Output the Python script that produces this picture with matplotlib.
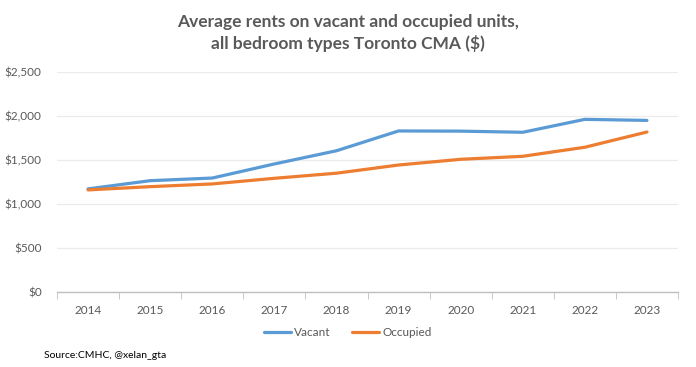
import numpy as np
import matplotlib.pyplot as plt
from matplotlib.ticker import FuncFormatter

years = ["2014", "2015", "2016", "2017", "2018", "2019", "2020", "2021", "2022", "2023"]
vacant = [1172, 1265, 1295, 1455, 1605, 1830, 1828, 1815, 1962, 1950]
occupied = [1160, 1197, 1228, 1292, 1350, 1443, 1508, 1542, 1645, 1818]

plt.rcParams['font.family'] = ['Lato', 'DejaVu Sans']
grey = '#595959'

fig = plt.figure(figsize=(6.96, 3.67), dpi=100)
ax = fig.add_axes([57 / 696, 1 - 292 / 367, (678 - 57) / 696, 220 / 367])

x = np.arange(len(years))
ax.plot(x, vacant, color='#5B9BD5', lw=2.3, label='Vacant', solid_capstyle='round')
ax.plot(x, occupied, color='#ED7D31', lw=2.3, label='Occupied', solid_capstyle='round')

ax.set_xlim(-0.5, len(years) - 0.5)
ax.set_ylim(0, 2500)
ax.set_yticks(np.arange(0, 2501, 500))
ax.yaxis.set_major_formatter(FuncFormatter(lambda v, p: f"${v:,.0f}"))
ax.grid(axis='y', color='#EBEBEB', lw=0.9)
ax.set_axisbelow(True)

ax.set_xticks(x)
ax.set_xticklabels(years)
ax.set_xticks(np.arange(-0.5, len(years)), minor=True)
ax.tick_params(axis='x', which='major', length=0, pad=9, labelsize=8.5, labelcolor=grey)
ax.tick_params(axis='x', which='minor', length=5, color='#BFBFBF', direction='out')
ax.tick_params(axis='y', length=0, pad=11, labelsize=8.5, labelcolor=grey)

for s in ['top', 'right', 'left']:
    ax.spines[s].set_visible(False)
ax.spines['bottom'].set_color('#BFBFBF')
ax.spines['bottom'].set_linewidth(1)

fig.text(0.5, 1 - 33 / 367, "Average rents on vacant and occupied units,\nall bedroom types Toronto CMA ($)",
         ha='center', va='center', fontsize=12.5, fontweight='bold', color=grey, linespacing=1.3)

fig.legend(loc='center', bbox_to_anchor=(0.5, 1 - 333 / 367), ncol=2, frameon=False,
           fontsize=8.5, labelcolor=grey, handlelength=2.3, columnspacing=1.8, handletextpad=0.3)

fig.text(44 / 696, 1 - 355 / 367, "Source:CMHC, @xelan_gta", fontsize=7.5, color='black', va='center')

fig.savefig('out.png', dpi=100)
